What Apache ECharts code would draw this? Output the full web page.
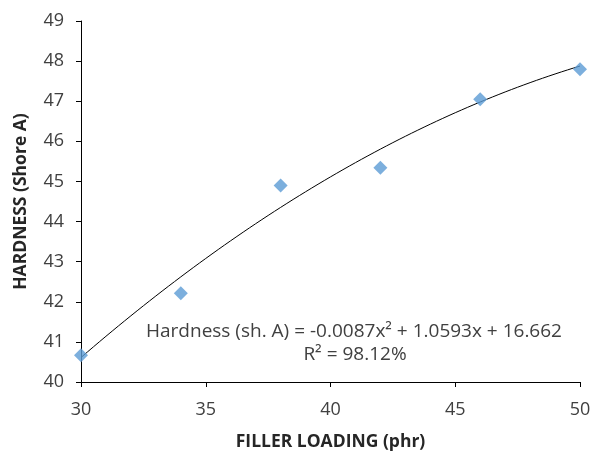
<!DOCTYPE html>
<html><head><meta charset="utf-8">
<script src="https://cdn.jsdelivr.net/npm/echarts@6/dist/echarts.min.js"></script>
<style>html,body{margin:0;padding:0;background:#fff}#c{width:594px;height:452px}</style>
</head><body><div id="c"></div>
<script>
const fillerLoading = [30, 34, 38, 42, 46, 50];
const hardness = [40.67, 42.21, 44.9, 45.34, 47.05, 47.8];
const trendCoefs = [-0.0087, 1.0593, 16.662]; // a x^2 + b x + c, as printed on chart
const xTicks = [30, 35, 40, 45, 50];
const yTicks = [40, 41, 42, 43, 44, 45, 46, 47, 48, 49];
const eqText = 'Hardness (sh. A) = -0.0087x² + 1.0593x + 16.662';
const r2Text = 'R² = 98.12%';

const trend = [];
for (let i = 0; i <= 80; i++) {
  const x = fillerLoading[0] + (fillerLoading[fillerLoading.length-1] - fillerLoading[0]) * i / 80;
  trend.push([x, trendCoefs[0]*x*x + trendCoefs[1]*x + trendCoefs[2]]);
}
const font = 'Open Sans';
const chart = echarts.init(document.getElementById('c'));
chart.setOption({
  animation: false,
  grid: {left: 81, right: 14, top: 21, bottom: 70, containLabel: false, outerBoundsMode: 'none'},
  xAxis: {
    type: 'value', min: xTicks[0], max: xTicks[xTicks.length-1], interval: 5,
    name: 'FILLER LOADING (phr)', nameLocation: 'middle', nameGap: 51,
    nameTextStyle: {fontFamily: font, fontWeight: 'bold', fontSize: 17.5, color: '#262626'},
    axisLine: {lineStyle: {color: '#000', width: 1}},
    axisTick: {show: true, length: 5, lineStyle: {color: '#000'}},
    axisLabel: {fontFamily: font, fontSize: 18, color: '#404040', margin: 19},
    splitLine: {show: false}
  },
  yAxis: {
    type: 'value', min: yTicks[0], max: yTicks[yTicks.length-1], interval: 1,
    name: 'HARDNESS (Shore A)', nameLocation: 'middle', nameGap: 51,
    nameTextStyle: {fontFamily: font, fontWeight: 'bold', fontSize: 17.5, color: '#262626'},
    axisLine: {show: true, lineStyle: {color: '#000', width: 1}},
    axisTick: {show: true, length: 5, lineStyle: {color: '#000'}},
    axisLabel: {fontFamily: font, fontSize: 18, color: '#404040', margin: 17},
    splitLine: {show: false}
  },
  graphic: [
    {type: 'text', x: 354, y: 332, style: {text: eqText, font: '19px "Open Sans"', fill: '#404040', align: 'center', verticalAlign: 'middle'}},
    {type: 'text', x: 355, y: 355, style: {text: r2Text, font: '19px "Open Sans"', fill: '#404040', align: 'center', verticalAlign: 'middle'}}
  ],
  series: [
    {type: 'line', data: trend, showSymbol: false, smooth: false,
     lineStyle: {color: '#000', width: 1}, silent: true, z: 1},
    {type: 'scatter', data: fillerLoading.map((x, i) => [x, hardness[i]]),
     symbol: 'diamond', symbolSize: 14, itemStyle: {color: '#5B9BD5'}, z: 3}
  ]
});
</script></body></html>
